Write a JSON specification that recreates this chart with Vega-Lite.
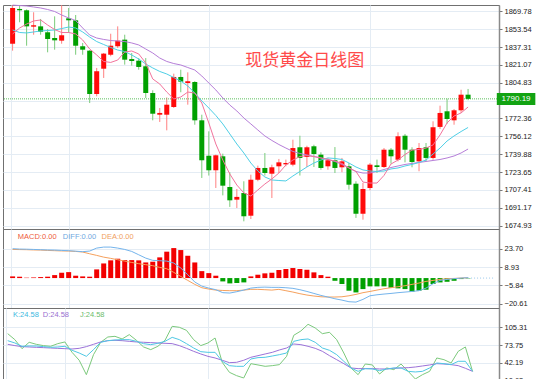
{
"$schema": "https://vega.github.io/schema/vega-lite/v6.json",
"padding": {"left": 2, "top": 2, "right": 0, "bottom": 0},
"background": "white",
"spacing": 0,
"bounds": "flush",
"config": {
  "view": {"stroke": "#707070", "strokeWidth": 1},
  "axis": {"labelFont": "Liberation Sans", "labelFontSize": 7.5, "labelColor": "#222222", "gridColor": "#e4ecf4", "tickColor": "#777777", "domainColor": "#777777", "tickSize": 3, "labelPadding": 2, "labelOverlap": false, "labelBound": false}
},
"datasets": {"d": [
{"i":1,"o":1840.3,"h":1875.2,"l":1834.0,"c":1872.8,"m5":1849.2,"m10":1852.8,"m20":1875.4,"macd":1.35,"dif":23.7,"dea":23.1,"k":81.8,"d":75.3,"j":94.2},
{"i":2,"o":1871.9,"h":1875.3,"l":1859.8,"c":1870.7,"m5":1854.6,"m10":1850.5,"m20":1875.0,"macd":1.08,"dif":23.4,"dea":23.0,"k":77.7,"d":73.0,"j":83.6},
{"i":3,"o":1870.7,"h":1871.5,"l":1838.5,"c":1856.1,"m5":1858.2,"m10":1850.1,"m20":1874.6,"macd":0.3,"dif":23.3,"dea":22.9,"k":71.8,"d":71.2,"j":67.6},
{"i":4,"o":1855.8,"h":1868.9,"l":1848.5,"c":1857.1,"m5":1861.0,"m10":1851.0,"m20":1873.7,"macd":0.5,"dif":23.1,"dea":22.7,"k":72.4,"d":70.6,"j":78.9},
{"i":5,"o":1856.1,"h":1862.8,"l":1848.5,"c":1851.2,"m5":1861.9,"m10":1851.9,"m20":1872.8,"macd":0.8,"dif":22.9,"dea":22.6,"k":72.4,"d":70.0,"j":75.3},
{"i":6,"o":1850.7,"h":1853.7,"l":1832.5,"c":1844.6,"m5":1857.3,"m10":1852.3,"m20":1871.4,"macd":1.1,"dif":22.7,"dea":22.3,"k":71.2,"d":69.4,"j":73.0},
{"i":7,"o":1845.5,"h":1865.2,"l":1834.9,"c":1843.4,"m5":1853.2,"m10":1852.8,"m20":1869.6,"macd":2.4,"dif":22.6,"dea":22.1,"k":70.0,"d":68.8,"j":71.8},
{"i":8,"o":1843.1,"h":1875.3,"l":1840.3,"c":1848.0,"m5":1850.5,"m10":1854.1,"m20":1866.4,"macd":4.3,"dif":22.3,"dea":21.9,"k":70.6,"d":68.2,"j":76.5},
{"i":9,"o":1863.4,"h":1872.8,"l":1850.1,"c":1861.6,"m5":1850.5,"m10":1855.5,"m20":1863.7,"macd":4.8,"dif":22.1,"dea":21.8,"k":71.8,"d":67.6,"j":79.5},
{"i":10,"o":1861.6,"h":1866.4,"l":1830.3,"c":1838.5,"m5":1849.2,"m10":1854.6,"m20":1861.4,"macd":1.9,"dif":21.7,"dea":21.5,"k":64.7,"d":67.0,"j":61.1},
{"i":11,"o":1838.0,"h":1841.0,"l":1830.3,"c":1834.9,"m5":1843.7,"m10":1851.0,"m20":1854.6,"macd":1.35,"dif":21.3,"dea":21.0,"k":59.9,"d":68.2,"j":47.0},
{"i":12,"o":1834.0,"h":1834.5,"l":1786.4,"c":1794.6,"m5":1835.5,"m10":1846.4,"m20":1848.2,"macd":1.1,"dif":21.8,"dea":19.6,"k":54.0,"d":71.2,"j":21.5},
{"i":13,"o":1794.6,"h":1818.3,"l":1792.5,"c":1815.3,"m5":1830.1,"m10":1842.3,"m20":1845.5,"macd":7.0,"dif":24.2,"dea":18.3,"k":65.9,"d":75.3,"j":57.0},
{"i":14,"o":1817.6,"h":1831.9,"l":1809.2,"c":1831.3,"m5":1824.2,"m10":1839.6,"m20":1844.2,"macd":11.8,"dif":25.0,"dea":16.9,"k":78.9,"d":79.5,"j":78.9},
{"i":15,"o":1830.3,"h":1849.4,"l":1828.9,"c":1838.5,"m5":1823.3,"m10":1836.9,"m20":1843.2,"macd":14.3,"dif":25.0,"dea":15.9,"k":81.8,"d":81.8,"j":88.3},
{"i":16,"o":1838.0,"h":1856.1,"l":1836.4,"c":1843.1,"m5":1825.5,"m10":1834.6,"m20":1842.8,"macd":15.6,"dif":24.2,"dea":14.8,"k":83.0,"d":82.4,"j":89.5},
{"i":17,"o":1844.0,"h":1848.5,"l":1821.3,"c":1825.8,"m5":1832.8,"m10":1833.2,"m20":1842.3,"macd":14.5,"dif":23.1,"dea":13.7,"k":83.6,"d":81.8,"j":84.8},
{"i":18,"o":1826.4,"h":1831.9,"l":1820.4,"c":1824.6,"m5":1833.7,"m10":1830.1,"m20":1841.0,"macd":14.5,"dif":21.5,"dea":12.6,"k":83.6,"d":80.6,"j":92.5},
{"i":19,"o":1824.9,"h":1827.3,"l":1816.7,"c":1819.2,"m5":1831.0,"m10":1826.4,"m20":1839.2,"macd":14.3,"dif":18.8,"dea":11.6,"k":80.6,"d":79.5,"j":82.4},
{"i":20,"o":1819.8,"h":1827.3,"l":1791.0,"c":1795.5,"m5":1822.8,"m10":1821.9,"m20":1835.5,"macd":12.6,"dif":16.1,"dea":10.8,"k":76.5,"d":78.9,"j":70.6},
{"i":21,"o":1795.5,"h":1798.0,"l":1770.7,"c":1776.7,"m5":1808.3,"m10":1818.3,"m20":1831.9,"macd":13.2,"dif":14.3,"dea":10.0,"k":74.7,"d":78.3,"j":65.9},
{"i":22,"o":1775.8,"h":1781.9,"l":1769.2,"c":1777.4,"m5":1803.7,"m10":1815.1,"m20":1827.3,"macd":16.7,"dif":14.0,"dea":8.6,"k":77.1,"d":77.7,"j":71.8},
{"i":23,"o":1775.8,"h":1791.5,"l":1761.6,"c":1784.9,"m5":1796.4,"m10":1812.8,"m20":1824.2,"macd":21.3,"dif":13.7,"dea":7.5,"k":80.6,"d":77.1,"j":82.4},
{"i":24,"o":1782.8,"h":1813.1,"l":1781.9,"c":1810.1,"m5":1790.1,"m10":1809.6,"m20":1822.3,"macd":24.2,"dif":12.1,"dea":4.6,"k":87.7,"d":76.5,"j":107.2},
{"i":25,"o":1810.1,"h":1816.7,"l":1796.2,"c":1805.8,"m5":1791.9,"m10":1806.4,"m20":1821.0,"macd":22.6,"dif":8.1,"dea":1.3,"k":83.6,"d":73.0,"j":105.5},
{"i":26,"o":1804.6,"h":1814.3,"l":1784.9,"c":1806.2,"m5":1796.4,"m10":1801.9,"m20":1818.7,"macd":18.0,"dif":2.7,"dea":-1.9,"k":76.5,"d":68.2,"j":100.1},
{"i":27,"o":1805.5,"h":1806.3,"l":1766.7,"c":1770.7,"m5":1795.5,"m10":1795.5,"m20":1816.4,"macd":12.6,"dif":-3.2,"dea":-5.1,"k":68.8,"d":62.9,"j":83.6},
{"i":28,"o":1770.7,"h":1775.8,"l":1718.3,"c":1734.4,"m5":1786.4,"m10":1788.3,"m20":1811.0,"macd":5.6,"dif":-6.5,"dea":-7.8,"k":62.3,"d":58.2,"j":73.0},
{"i":29,"o":1738.5,"h":1760.7,"l":1720.5,"c":1725.3,"m5":1768.3,"m10":1781.9,"m20":1804.6,"macd":4.0,"dif":-8.1,"dea":-8.9,"k":61.1,"d":54.0,"j":77.7},
{"i":30,"o":1725.3,"h":1739.5,"l":1709.2,"c":1738.9,"m5":1749.2,"m10":1775.1,"m20":1798.3,"macd":1.9,"dif":-9.4,"dea":-9.7,"k":61.1,"d":51.1,"j":86.5},
{"i":31,"o":1738.0,"h":1740.4,"l":1702.5,"c":1711.3,"m5":1734.6,"m10":1767.4,"m20":1791.0,"macd":-2.7,"dif":-11.8,"dea":-10.0,"k":45.2,"d":47.0,"j":43.4},
{"i":32,"o":1710.1,"h":1723.5,"l":1692.0,"c":1698.0,"m5":1721.9,"m10":1758.3,"m20":1784.6,"macd":-4.3,"dif":-12.1,"dea":-10.2,"k":37.5,"d":42.8,"j":25.7},
{"i":33,"o":1698.6,"h":1708.3,"l":1691.0,"c":1701.1,"m5":1711.9,"m10":1749.2,"m20":1779.2,"macd":-4.0,"dif":-11.0,"dea":-10.2,"k":36.3,"d":43.4,"j":19.8},
{"i":34,"o":1704.6,"h":1715.3,"l":1678.9,"c":1683.5,"m5":1704.7,"m10":1741.0,"m20":1772.8,"macd":-3.5,"dif":-9.7,"dea":-9.7,"k":36.3,"d":47.0,"j":15.6},
{"i":35,"o":1684.0,"h":1721.3,"l":1681.0,"c":1716.7,"m5":1701.9,"m10":1731.9,"m20":1767.4,"macd":1.35,"dif":-8.1,"dea":-9.1,"k":49.3,"d":52.3,"j":41.0},
{"i":36,"o":1716.7,"h":1729.5,"l":1715.3,"c":1727.4,"m5":1707.4,"m10":1724.6,"m20":1761.9,"macd":2.7,"dif":-7.5,"dea":-9.1,"k":51.7,"d":55.2,"j":38.7},
{"i":37,"o":1727.4,"h":1741.0,"l":1720.5,"c":1722.8,"m5":1712.8,"m10":1719.2,"m20":1756.5,"macd":3.8,"dif":-7.3,"dea":-9.4,"k":52.3,"d":58.2,"j":36.3},
{"i":38,"o":1722.2,"h":1730.4,"l":1700.1,"c":1728.0,"m5":1717.4,"m10":1716.5,"m20":1752.4,"macd":4.3,"dif":-7.5,"dea":-9.7,"k":54.6,"d":61.1,"j":37.5},
{"i":39,"o":1728.9,"h":1735.6,"l":1722.8,"c":1732.5,"m5":1722.8,"m10":1716.0,"m20":1748.7,"macd":6.5,"dif":-7.5,"dea":-9.1,"k":57.0,"d":65.3,"j":39.3},
{"i":40,"o":1730.7,"h":1735.0,"l":1728.9,"c":1731.9,"m5":1730.1,"m10":1715.6,"m20":1745.5,"macd":7.3,"dif":-7.8,"dea":-10.2,"k":59.9,"d":68.8,"j":54.0},
{"i":41,"o":1730.4,"h":1753.1,"l":1728.9,"c":1745.5,"m5":1734.6,"m10":1720.1,"m20":1742.4,"macd":8.1,"dif":-8.3,"dea":-11.3,"k":80.6,"d":75.9,"j":91.3},
{"i":42,"o":1746.2,"h":1756.7,"l":1720.5,"c":1736.5,"m5":1737.8,"m10":1724.2,"m20":1740.6,"macd":7.3,"dif":-9.4,"dea":-12.6,"k":83.6,"d":74.7,"j":99.0},
{"i":43,"o":1737.4,"h":1747.6,"l":1728.3,"c":1746.2,"m5":1738.6,"m10":1728.3,"m20":1739.2,"macd":6.7,"dif":-10.8,"dea":-13.7,"k":84.8,"d":71.8,"j":110.8},
{"i":44,"o":1747.1,"h":1748.5,"l":1728.3,"c":1740.1,"m5":1737.8,"m10":1731.9,"m20":1737.8,"macd":4.6,"dif":-12.4,"dea":-14.5,"k":78.9,"d":68.2,"j":104.3},
{"i":45,"o":1739.5,"h":1741.6,"l":1725.8,"c":1727.4,"m5":1736.5,"m10":1734.6,"m20":1736.5,"macd":2.4,"dif":-14.0,"dea":-15.1,"k":68.8,"d":62.9,"j":94.2},
{"i":46,"o":1728.9,"h":1736.5,"l":1725.8,"c":1734.4,"m5":1735.1,"m10":1736.5,"m20":1735.1,"macd":1.1,"dif":-15.3,"dea":-15.3,"k":64.7,"d":55.2,"j":96.6},
{"i":47,"o":1734.4,"h":1746.4,"l":1722.8,"c":1727.4,"m5":1733.7,"m10":1736.0,"m20":1733.3,"macd":-2.2,"dif":-16.7,"dea":-15.3,"k":57.0,"d":48.1,"j":83.6},
{"i":48,"o":1728.0,"h":1736.5,"l":1723.5,"c":1733.4,"m5":1731.5,"m10":1735.1,"m20":1730.6,"macd":-4.8,"dif":-17.8,"dea":-15.1,"k":45.2,"d":41.0,"j":59.9},
{"i":49,"o":1728.9,"h":1731.9,"l":1707.7,"c":1712.2,"m5":1727.4,"m10":1731.9,"m20":1727.4,"macd":-10.2,"dif":-19.1,"dea":-14.3,"k":33.4,"d":33.4,"j":33.4},
{"i":50,"o":1713.1,"h":1715.3,"l":1682.0,"c":1685.8,"m5":1724.2,"m10":1728.3,"m20":1724.2,"macd":-11.6,"dif":-19.4,"dea":-13.2,"k":27.4,"d":32.2,"j":21.5},
{"i":51,"o":1685.8,"h":1713.8,"l":1680.4,"c":1708.3,"m5":1714.6,"m10":1725.6,"m20":1722.8,"macd":-8.9,"dif":-17.2,"dea":-11.8,"k":32.2,"d":32.2,"j":40.4},
{"i":52,"o":1709.2,"h":1731.9,"l":1707.1,"c":1730.4,"m5":1713.7,"m10":1724.6,"m20":1722.8,"macd":-6.7,"dif":-14.3,"dea":-10.8,"k":31.6,"d":32.2,"j":38.7},
{"i":53,"o":1729.8,"h":1735.0,"l":1722.8,"c":1728.3,"m5":1713.7,"m10":1724.2,"m20":1724.2,"macd":-6.7,"dif":-13.5,"dea":-9.7,"k":28.6,"d":31.6,"j":22.7},
{"i":54,"o":1728.3,"h":1745.5,"l":1727.4,"c":1744.0,"m5":1720.6,"m10":1724.6,"m20":1726.0,"macd":-6.7,"dif":-12.9,"dea":-8.6,"k":31.6,"d":31.6,"j":33.4},
{"i":55,"o":1744.0,"h":1745.5,"l":1731.3,"c":1738.0,"m5":1731.0,"m10":1726.5,"m20":1727.8,"macd":-7.8,"dif":-12.4,"dea":-7.8,"k":33.4,"d":32.8,"j":30.4},
{"i":56,"o":1734.9,"h":1759.8,"l":1733.4,"c":1756.2,"m5":1734.6,"m10":1727.4,"m20":1729.2,"macd":-8.3,"dif":-11.8,"dea":-7.0,"k":33.4,"d":33.4,"j":40.4},
{"i":57,"o":1756.7,"h":1758.3,"l":1732.5,"c":1744.0,"m5":1739.6,"m10":1729.2,"m20":1730.6,"macd":-8.9,"dif":-11.3,"dea":-6.2,"k":27.4,"d":33.9,"j":27.4},
{"i":58,"o":1744.0,"h":1746.2,"l":1728.0,"c":1732.8,"m5":1743.7,"m10":1730.6,"m20":1731.5,"macd":-11.0,"dif":-10.8,"dea":-5.1,"k":26.3,"d":35.1,"j":13.9},
{"i":59,"o":1733.4,"h":1750.1,"l":1724.4,"c":1745.5,"m5":1744.2,"m10":1732.4,"m20":1732.4,"macd":-10.2,"dif":-10.2,"dea":-4.0,"k":27.4,"d":36.9,"j":21.5},
{"i":60,"o":1746.2,"h":1750.1,"l":1733.4,"c":1736.5,"m5":1745.5,"m10":1734.6,"m20":1733.3,"macd":-9.4,"dif":-8.1,"dea":-2.7,"k":33.4,"d":38.7,"j":27.4},
{"i":61,"o":1736.5,"h":1769.8,"l":1734.9,"c":1764.4,"m5":1748.3,"m10":1740.1,"m20":1734.2,"macd":-4.8,"dif":-4.6,"dea":-1.9,"k":42.2,"d":41.0,"j":51.1},
{"i":62,"o":1764.7,"h":1784.0,"l":1762.8,"c":1777.4,"m5":1757.4,"m10":1745.5,"m20":1735.1,"macd":-3.5,"dif":-1.9,"dea":-1.1,"k":41.0,"d":40.4,"j":48.1},
{"i":63,"o":1778.9,"h":1790.4,"l":1767.6,"c":1771.9,"m5":1768.3,"m10":1751.9,"m20":1736.5,"macd":-3.0,"dif":-1.1,"dea":-0.5,"k":39.3,"d":39.3,"j":42.2},
{"i":64,"o":1770.7,"h":1781.0,"l":1766.7,"c":1779.8,"m5":1774.6,"m10":1756.5,"m20":1738.3,"macd":-2.2,"dif":-0.5,"dea":-0.3,"k":45.2,"d":37.5,"j":62.9},
{"i":65,"o":1779.8,"h":1798.5,"l":1777.4,"c":1794.0,"m5":1777.4,"m10":1760.5,"m20":1741.0,"macd":-0.8,"dif":0.0,"dea":0.0,"k":45.2,"d":32.8,"j":70.6},
{"i":66,"o":1794.0,"h":1799.2,"l":1788.9,"c":1790.19,"m5":1782.8,"m10":1764.2,"m20":1744.6,"macd":-0.3,"dif":0.3,"dea":0.3,"k":27.4,"d":27.4,"j":27.4}
]},
"vconcat": [
{
  "width": 496, "height": 224,
  "data": {"name": "d"},
  "layer": [
    {"mark": {"type": "rule", "strokeWidth": 1},
     "encoding": {
       "x": {"field": "i", "type": "quantitative", "title": null, "scale": {"domain": [0.343, 69.7], "nice": false, "zero": false}, "axis": {"values": [0.76, 9, 29, 52], "tickCount": 50, "labels": false, "ticks": false, "domain": false, "grid": true, "title": null}},
       "y": {"field": "l", "type": "quantitative", "title": null, "scale": {"domain": [1671.93, 1875.5], "nice": false, "zero": false}, "axis": {"orient": "right", "values": [1869.78, 1853.54, 1837.31, 1821.07, 1804.83, 1788.6, 1772.36, 1756.12, 1739.88, 1723.65, 1707.41, 1691.17, 1674.93], "tickCount": 50, "format": ".2f", "labelExpr": "abs(datum.value - 1788.6) < 0.01 ? '' : datum.label", "labelOverlap": false, "grid": true, "title": null, "domainWidth": 1.5, "domainColor": "#8a8a8a"}},
       "y2": {"field": "h"},
       "color": {"condition": {"test": "datum.c >= datum.o", "value": "#ff8080"}, "value": "#7acb7a"}
     }},
    {"data": {"values": [{}]},
     "mark": {"type": "rule", "strokeDash": [1, 1], "color": "#5cbf5c", "strokeWidth": 1},
     "encoding": {"y": {"datum": 1790.19, "type": "quantitative", "title": null}}},
    {"mark": {"type": "bar", "width": 5},
     "encoding": {
       "x": {"field": "i", "type": "quantitative", "title": null},
       "y": {"field": "o", "type": "quantitative", "title": null},
       "y2": {"field": "c"},
       "color": {"condition": {"test": "datum.c >= datum.o", "value": "#ff0a0a"}, "value": "#00a000"}
     }},
    {"mark": {"type": "line", "color": "#b67ed8", "strokeWidth": 1},
     "encoding": {"x": {"field": "i", "type": "quantitative", "title": null}, "y": {"field": "m20", "type": "quantitative", "title": null}}},
    {"mark": {"type": "line", "color": "#4fcfe6", "strokeWidth": 1},
     "encoding": {"x": {"field": "i", "type": "quantitative", "title": null}, "y": {"field": "m10", "type": "quantitative", "title": null}}},
    {"mark": {"type": "line", "color": "#f2739c", "strokeWidth": 1},
     "encoding": {"x": {"field": "i", "type": "quantitative", "title": null}, "y": {"field": "m5", "type": "quantitative", "title": null}}},
    {"data": {"values": [{}]},
     "mark": {"type": "text", "text": "现货黄金日线图", "font": "Noto Sans CJK SC", "fontSize": 17, "color": "#ff4a4a", "align": "center", "baseline": "middle"},
     "encoding": {"x": {"datum": 42.7, "type": "quantitative", "title": null}, "y": {"datum": 1824.2, "type": "quantitative", "title": null}}},
    {"data": {"values": [{}]},
     "mark": {"type": "rect", "color": "#12a312"},
     "encoding": {"x": {"datum": 70.1, "type": "quantitative", "title": null}, "x2": {"datum": 75.6}, "y": {"datum": 1784.6, "type": "quantitative", "title": null}, "y2": {"datum": 1795.6}}},
    {"data": {"values": [{}]},
     "mark": {"type": "text", "text": "1790.19", "font": "Liberation Sans", "fontSize": 8, "color": "white", "align": "center", "baseline": "middle"},
     "encoding": {"x": {"datum": 72.85, "type": "quantitative", "title": null}, "y": {"datum": 1790.19, "type": "quantitative", "title": null}}}
  ]
},
{
  "width": 496, "height": 79,
  "data": {"name": "d"},
  "layer": [
    {"mark": {"type": "bar", "width": 5},
     "encoding": {
       "x": {"field": "i", "type": "quantitative", "title": null, "scale": {"domain": [0.343, 69.7], "nice": false, "zero": false}, "axis": {"values": [0.76, 9, 29, 52], "tickCount": 50, "labels": false, "ticks": false, "domain": false, "grid": true, "title": null}},
       "y": {"field": "macd", "type": "quantitative", "title": null, "scale": {"domain": [-24.16, 39.6], "nice": false, "zero": false}, "axis": {"orient": "right", "values": [23.7, 8.93, -5.84, -20.61], "tickCount": 50, "format": ".2f", "labelOverlap": false, "grid": true, "title": null, "domainWidth": 1.5, "domainColor": "#8a8a8a"}},
       "y2": {"datum": 0},
       "color": {"condition": {"test": "datum.macd >= 0", "value": "#f20000"}, "value": "#00a000"}
     }},
    {"mark": {"type": "line", "color": "#f5a05c", "strokeWidth": 1},
     "encoding": {"x": {"field": "i", "type": "quantitative", "title": null}, "y": {"field": "dea", "type": "quantitative", "title": null}}},
    {"mark": {"type": "line", "color": "#74b4ec", "strokeWidth": 1},
     "encoding": {"x": {"field": "i", "type": "quantitative", "title": null}, "y": {"field": "dif", "type": "quantitative", "title": null}}},
    {"data": {"values": [{}]},
     "mark": {"type": "rule", "strokeDash": [1, 2], "color": "#9cc8ec"},
     "encoding": {"x": {"datum": 66, "type": "quantitative", "title": null}, "x2": {"datum": 69.6}, "y": {"datum": 0, "type": "quantitative", "title": null}}},
    {"data": {"values": [{}]},
     "mark": {"type": "text", "text": "MACD:0.00", "font": "Liberation Sans", "fontSize": 7.5, "color": "#ee5a3a", "align": "left", "baseline": "middle"},
     "encoding": {"x": {"datum": 1.74, "type": "quantitative", "title": null}, "y": {"datum": 33.1, "type": "quantitative", "title": null}}},
    {"data": {"values": [{}]},
     "mark": {"type": "text", "text": "DIFF:0.00", "font": "Liberation Sans", "fontSize": 7.5, "color": "#6fa8e0", "align": "left", "baseline": "middle"},
     "encoding": {"x": {"datum": 8.17, "type": "quantitative", "title": null}, "y": {"datum": 33.1, "type": "quantitative", "title": null}}},
    {"data": {"values": [{}]},
     "mark": {"type": "text", "text": "DEA:0.00", "font": "Liberation Sans", "fontSize": 7.5, "color": "#f0a060", "align": "left", "baseline": "middle"},
     "encoding": {"x": {"datum": 13.7, "type": "quantitative", "title": null}, "y": {"datum": 33.1, "type": "quantitative", "title": null}}}
  ]
},
{
  "width": 496, "height": 72,
  "data": {"name": "d"},
  "layer": [
    {"mark": {"type": "line", "color": "#7cc97c", "strokeWidth": 1},
     "encoding": {
       "x": {"field": "i", "type": "quantitative", "title": null, "scale": {"domain": [0.343, 69.7], "nice": false, "zero": false}, "axis": {"values": [0.76, 9, 29, 52], "tickCount": 50, "labels": false, "ticks": false, "domain": false, "grid": true, "title": null}},
       "y": {"field": "j", "type": "quantitative", "title": null, "scale": {"domain": [12.05, 139.7], "nice": false, "zero": false}, "axis": {"orient": "right", "values": [105.31, 73.75, 42.19, 12.05], "tickCount": 50, "format": ".2f", "labelOverlap": false, "labelExpr": "datum.value < 13 ? '10.63' : datum.label", "grid": true, "title": null, "domainWidth": 1.5, "domainColor": "#8a8a8a"}}
     }},
    {"mark": {"type": "line", "color": "#9c72d8", "strokeWidth": 1},
     "encoding": {"x": {"field": "i", "type": "quantitative", "title": null}, "y": {"field": "d", "type": "quantitative", "title": null}}},
    {"mark": {"type": "line", "color": "#4fc8e4", "strokeWidth": 1},
     "encoding": {"x": {"field": "i", "type": "quantitative", "title": null}, "y": {"field": "k", "type": "quantitative", "title": null}}},
    {"data": {"values": [{}]},
     "mark": {"type": "text", "text": "K:24.58", "font": "Liberation Sans", "fontSize": 7.5, "color": "#3cb8e0", "align": "left", "baseline": "middle"},
     "encoding": {"x": {"datum": 1.74, "type": "quantitative", "title": null}, "y": {"datum": 127.3, "type": "quantitative", "title": null}}},
    {"data": {"values": [{}]},
     "mark": {"type": "text", "text": "D:24.58", "font": "Liberation Sans", "fontSize": 7.5, "color": "#9a70d0", "align": "left", "baseline": "middle"},
     "encoding": {"x": {"datum": 5.9, "type": "quantitative", "title": null}, "y": {"datum": 127.3, "type": "quantitative", "title": null}}},
    {"data": {"values": [{}]},
     "mark": {"type": "text", "text": "J:24.58", "font": "Liberation Sans", "fontSize": 7.5, "color": "#6cbc6c", "align": "left", "baseline": "middle"},
     "encoding": {"x": {"datum": 11.1, "type": "quantitative", "title": null}, "y": {"datum": 127.3, "type": "quantitative", "title": null}}}
  ]
}
]
}
